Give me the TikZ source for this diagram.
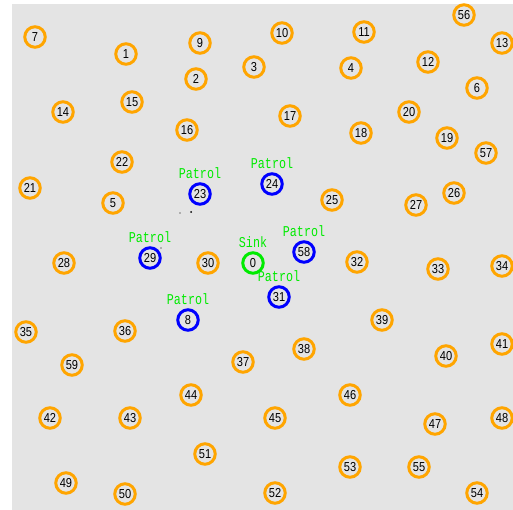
\documentclass[tikz,border=0pt]{standalone}
\usepackage{fontspec}
\setmainfont{Liberation Sans}
\newfontfamily\numfont[FakeStretch=0.85]{Liberation Sans}
\newfontfamily\tagfont[FakeStretch=0.78]{Liberation Mono}
\usetikzlibrary{positioning}

\definecolor{sensororange}{RGB}{255,165,0}
\definecolor{patrolblue}{RGB}{0,0,255}
\definecolor{sinkgreen}{RGB}{0,235,0}
\definecolor{fieldgray}{RGB}{228,228,228}

\tikzset{
  sensor/.style={circle, draw=sensororange, line width=3pt, minimum size=20.5pt,
    inner sep=0pt, font=\numfont\fontsize{13}{13}\selectfont},
  patrolnode/.style={sensor, draw=patrolblue},
  sinknode/.style={sensor, draw=sinkgreen},
  tag/.style={text=sinkgreen, inner sep=0pt, font=\tagfont\fontsize{15}{15}\selectfont},
}

\begin{document}
\begin{tikzpicture}[x=1pt, y=-1pt]
		% 1. Field (gray area) and fixed bounds
		\useasboundingbox (0,0) rectangle (513,510);
		\fill[fieldgray] (12,4) rectangle (513,510);

		% 2. Sink
		\node[sinknode] (n0) at (253,263) {0};
		\node[tag] (lbl0) [above=3.5pt of n0] {Sink};

		% 3. Patrol nodes (blue)
		\node[patrolnode] (n23) at (200,194) {23};
		\node[patrolnode] (n24) at (272,184) {24};
		\node[patrolnode] (n29) at (150,258) {29};
		\node[patrolnode] (n58) at (304,252) {58};
		\node[patrolnode] (n31) at (279,297) {31};
		\node[patrolnode] (n8) at (188,320) {8};
		\node[tag] (lbl23) [above=3.5pt of n23] {Patrol};
		\node[tag] (lbl24) [above=3.5pt of n24] {Patrol};
		\node[tag] (lbl29) [above=3.5pt of n29] {Patrol};
		\node[tag] (lbl58) [above=3.5pt of n58] {Patrol};
		\node[tag] (lbl31) [above=3.5pt of n31] {Patrol};
		\node[tag] (lbl8) [above=3.5pt of n8] {Patrol};

		% 4. Sensor nodes (orange)
		% top rows
		\node[sensor] (n7) at (35,37) {7};
		\node[sensor] (n1) at (126,54) {1};
		\node[sensor] (n9) at (200,43) {9};
		\node[sensor] (n2) at (196,79) {2};
		\node[sensor] (n3) at (254,67) {3};
		\node[sensor] (n10) at (282,33) {10};
		\node[sensor] (n11) at (364,32) {11};
		\node[sensor] (n4) at (351,68) {4};
		\node[sensor] (n12) at (428,62) {12};
		\node[sensor] (n56) at (464,15) {56};
		\node[sensor] (n13) at (502,43) {13};
		\node[sensor] (n6) at (477,88) {6};
		\node[sensor] (n14) at (63,112) {14};
		\node[sensor] (n15) at (132,102) {15};
		\node[sensor] (n16) at (187,130) {16};
		\node[sensor] (n17) at (290,116) {17};
		\node[sensor] (n18) at (361,133) {18};
		\node[sensor] (n20) at (409,112) {20};
		\node[sensor] (n19) at (447,138) {19};
		\node[sensor] (n57) at (486,153) {57};
		\node[sensor] (n22) at (122,162) {22};
		\node[sensor] (n21) at (30,188) {21};
		\node[sensor] (n5) at (113,203) {5};
		\node[sensor] (n25) at (332,200) {25};
		\node[sensor] (n27) at (416,205) {27};
		\node[sensor] (n26) at (454,193) {26};
		% middle rows
		\node[sensor] (n28) at (64,263) {28};
		\node[sensor] (n30) at (208,263) {30};
		\node[sensor] (n32) at (357,262) {32};
		\node[sensor] (n33) at (438,269) {33};
		\node[sensor] (n34) at (502,266) {34};
		\node[sensor] (n35) at (26,332) {35};
		\node[sensor] (n36) at (125,331) {36};
		\node[sensor] (n39) at (382,320) {39};
		\node[sensor] (n59) at (72,365) {59};
		\node[sensor] (n37) at (243,362) {37};
		\node[sensor] (n38) at (304,349) {38};
		\node[sensor] (n40) at (446,356) {40};
		\node[sensor] (n41) at (502,344) {41};
		% bottom rows
		\node[sensor] (n44) at (191,395) {44};
		\node[sensor] (n46) at (350,395) {46};
		\node[sensor] (n42) at (50,418) {42};
		\node[sensor] (n43) at (130,418) {43};
		\node[sensor] (n45) at (275,418) {45};
		\node[sensor] (n47) at (435,424) {47};
		\node[sensor] (n48) at (502,418) {48};
		\node[sensor] (n51) at (205,454) {51};
		\node[sensor] (n53) at (350,467) {53};
		\node[sensor] (n55) at (419,467) {55};
		\node[sensor] (n49) at (66,483) {49};
		\node[sensor] (n50) at (125,494) {50};
		\node[sensor] (n52) at (275,493) {52};
		\node[sensor] (n54) at (477,493) {54};

		% 5. Stray specks
		\fill (180,213) circle (0.7);
		\fill (191,212) circle (1);
		\fill (161,248) circle (0.6);
	\end{tikzpicture}
\end{document}
